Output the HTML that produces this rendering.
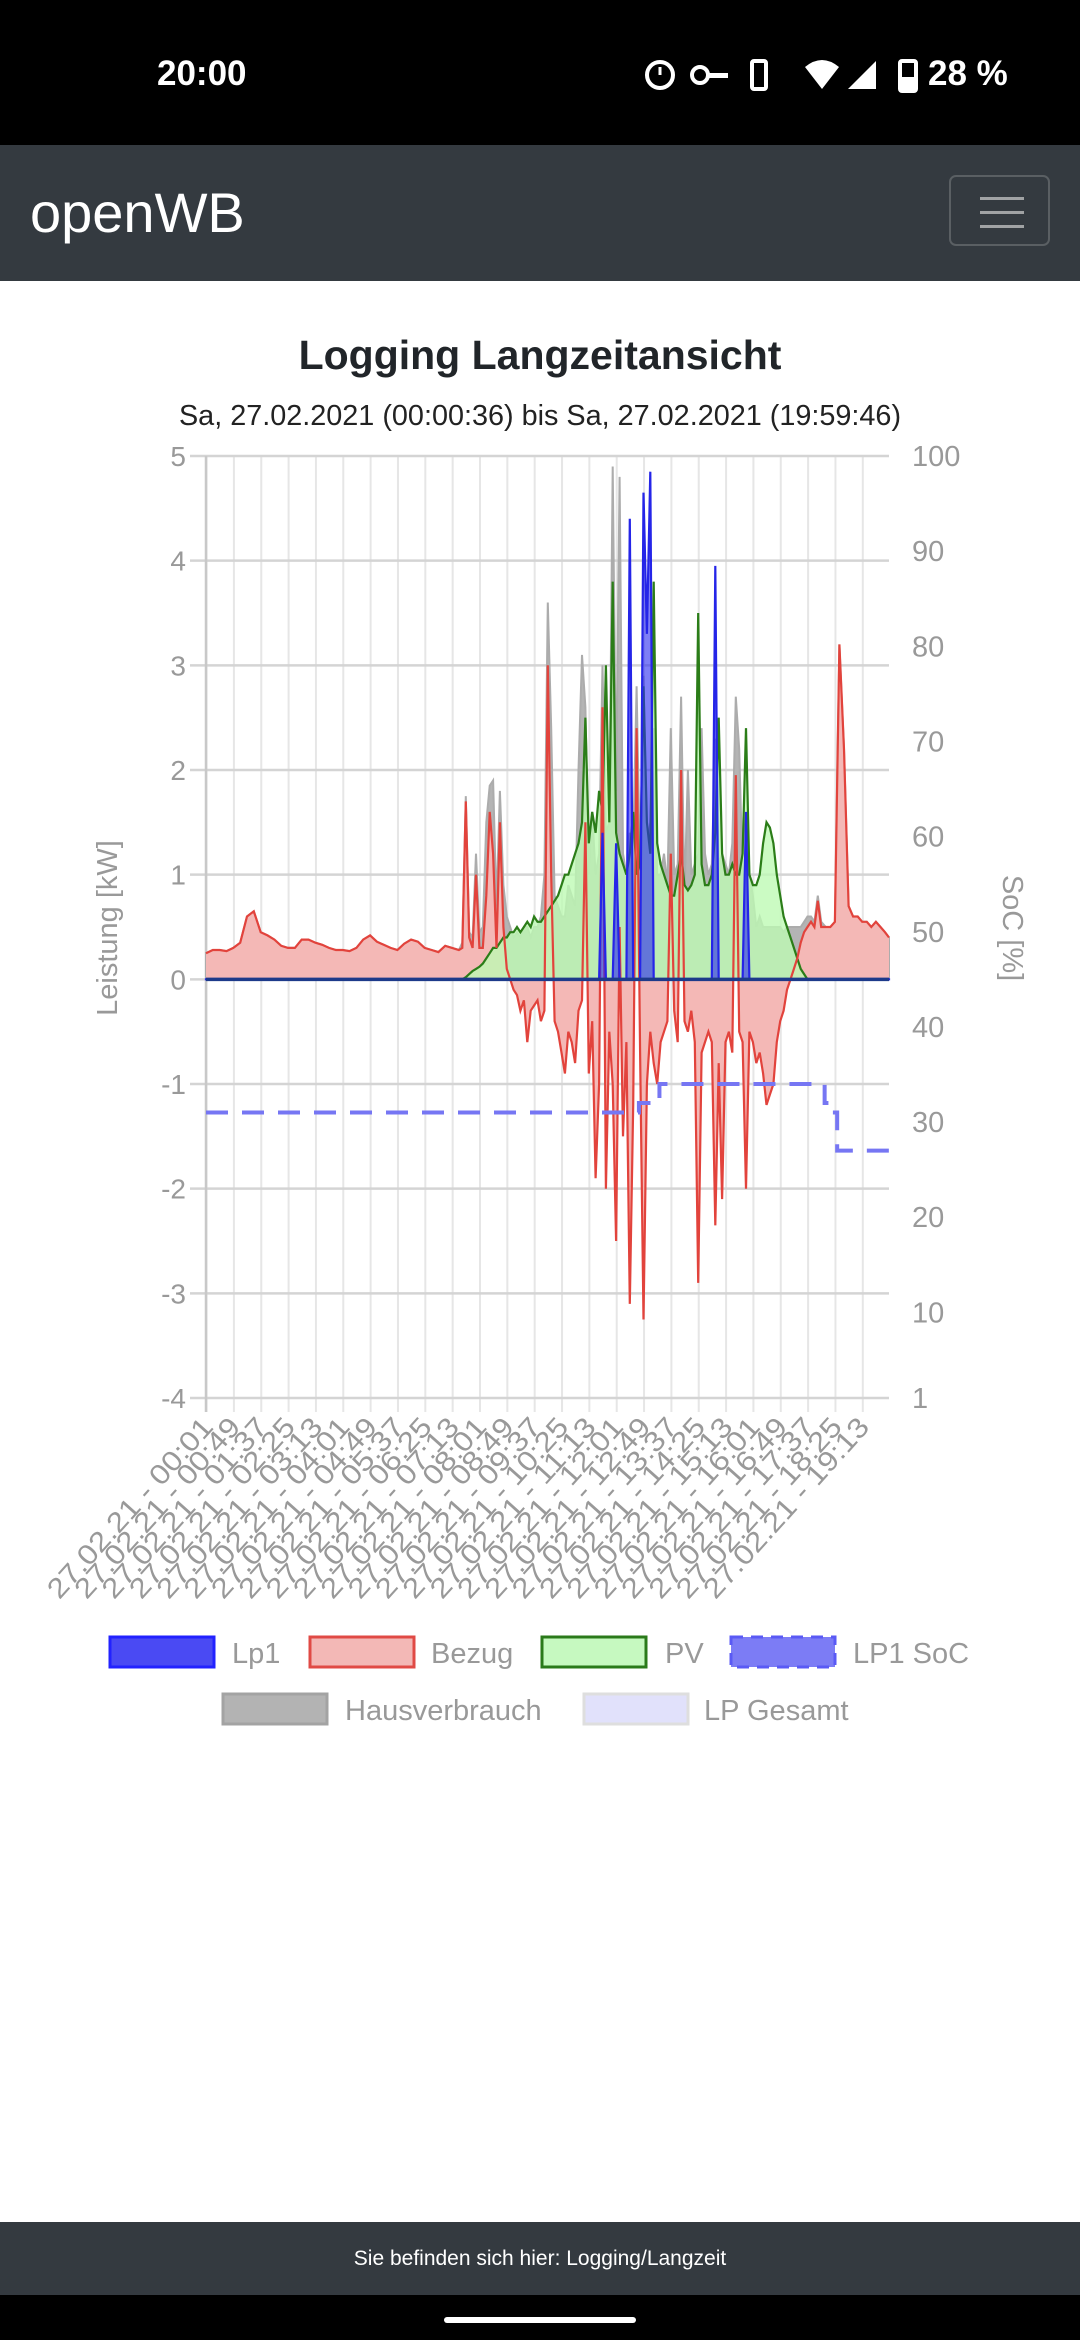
<!DOCTYPE html>
<html><head><meta charset="utf-8">
<style>
html,body{margin:0;padding:0;width:1080px;height:2340px;overflow:hidden;background:#fff;font-family:"Liberation Sans",sans-serif;}
#root{position:relative;width:1080px;height:2340px;}
.status{position:absolute;left:0;top:0;width:1080px;height:145px;background:#000;color:#fff;}
.nav{position:absolute;left:0;top:145px;width:1080px;height:136px;background:#343a40;}
.brand{position:absolute;left:30px;top:185px;font-size:56px;color:#fff;line-height:1;}
.toggler{position:absolute;left:949px;top:175px;width:101px;height:71px;border:2px solid #5a5f63;border-radius:7px;box-sizing:border-box;}
.toggler span{position:absolute;left:29px;width:44px;height:3px;background:#a0a2a4;}
.title{position:absolute;left:0;width:1080px;text-align:center;top:332px;font-size:41px;font-weight:bold;color:#212529;}
.sub{position:absolute;left:0;width:1080px;text-align:center;top:400px;font-size:28.8px;color:#222;}
.footer{position:absolute;left:0;top:2222px;width:1080px;height:73px;background:#343a40;color:#fff;font-size:21px;text-align:center;line-height:73px;}
.bottom{position:absolute;left:0;top:2295px;width:1080px;height:45px;background:#000;}
</style></head>
<body><div id="root">
<div class="status">
  <div style="position:absolute;left:157px;top:54px;font-size:35px;font-weight:bold;">20:00</div>
  <svg width="420" height="60" style="position:absolute;left:640px;top:45px">
    <circle cx="20" cy="30" r="13" fill="none" stroke="#fff" stroke-width="4"/>
    <line x1="20" y1="30" x2="20" y2="22" stroke="#fff" stroke-width="3"/>
    <circle cx="60" cy="30" r="8" fill="none" stroke="#fff" stroke-width="4"/><rect x="66" y="28" width="22" height="5" fill="#fff"/>
    <rect x="112" y="16" width="14" height="28" rx="2" fill="none" stroke="#fff" stroke-width="4"/>
    <path d="M165 22 L182 44 L199 22 Q182 8 165 22Z" fill="#fff"/>
    <path d="M208 44 L236 44 L236 16Z" fill="#fff"/>
    <rect x="260" y="16" width="16" height="30" rx="2" fill="none" stroke="#fff" stroke-width="4"/><rect x="262" y="32" width="12" height="12" fill="#fff"/>
  </svg>
  <div style="position:absolute;left:928px;top:54px;font-size:35px;font-weight:bold;">28 %</div>
</div>
<div class="nav"></div>
<div class="brand">openWB</div>
<div class="toggler"><span style="top:20px"></span><span style="top:34px"></span><span style="top:48px"></span></div>
<div class="title">Logging Langzeitansicht</div>
<div class="sub">Sa, 27.02.2021 (00:00:36) bis Sa, 27.02.2021 (19:59:46)</div>
<svg id="chart" width="1080" height="1780" style="position:absolute;left:0;top:0"></svg>
<div class="footer">Sie befinden sich hier: Logging/Langzeit</div>
<div class="bottom"><div style="position:absolute;left:444px;top:22px;width:192px;height:6px;border-radius:3px;background:#fff"></div></div>
</div>
<script>
const times=[0,12,24,36,48,60,72,84,96,108,120,132,144,156,168,180,192,204,216,228,240,252,264,276,288,300,312,324,336,348,360,372,384,396,408,420,432,444,
450,456,462,468,474,480,486,492,498,504,510,516,522,528,534,540,546,552,558,564,570,576,582,588,594,600,606,612,618,624,630,636,642,648,654,660,666,672,678,684,690,696,702,708,714,720,726,732,738,744,750,756,762,768,774,780,786,792,798,804,810,816,822,828,834,840,846,852,858,864,870,876,882,888,894,900,906,912,918,924,930,936,942,948,954,960,966,972,978,984,990,996,1002,1008,1014,1020,1026,1032,1038,1044,1050,1056,1062,1068,1074,1080,
1088,1096,1104,1112,1120,1128,1136,1144,1152,1160,1168,1176,1184,1192,1199];
const bezug=[0.25,0.28,0.28,0.27,0.30,0.35,0.6,0.65,0.45,0.42,0.38,0.32,0.30,0.30,0.38,0.38,0.35,0.33,0.30,0.28,0.28,0.27,0.30,0.38,0.42,0.36,0.33,0.30,0.28,0.34,0.38,0.36,0.30,0.28,0.26,0.32,0.30,0.28,
0.3,1.7,0.4,0.3,1.0,0.3,0.3,0.8,1.6,1.2,0.3,1.5,0.5,0.1,0.0,-0.1,
-0.15,-0.3,-0.2,-0.6,-0.3,-0.25,-0.2,-0.4,-0.3,3.0,
1.0,-0.4,-0.5,-0.7,-0.9,-0.5,-0.6,-0.8,-0.3,-0.2,
1.5,-0.9,-0.4,-1.9,-1.0,2.6,-2.0,-0.5,-1.0,-2.5,
0.5,-1.5,-0.6,-3.1,-1.2,2.4,-0.7,-3.25,-1.0,-0.5,
-0.8,-1.0,-0.6,-0.5,-0.4,1.2,-0.3,-0.6,2.0,-0.4,
-0.5,-0.3,-0.6,-2.9,-0.7,-0.6,-0.5,-0.6,-2.35,-0.8,
-2.1,-0.6,-0.5,-0.7,1.95,-0.5,-0.6,-2.0,-0.5,-0.6,
-0.8,-0.7,-0.9,-1.2,-1.1,-1.0,-0.6,-0.4,-0.3,-0.1,
0.0,0.1,0.2,0.35,0.45,0.5,0.55,0.5,0.75,0.5,
0.5,0.5,0.55,3.2,2.2,0.7,0.6,0.6,0.55,0.55,0.5,0.55,0.5,0.45,0.4];
const pv=[0,0,0,0,0,0,0,0,0,0,0,0,0,0,0,0,0,0,0,0,0,0,0,0,0,0,0,0,0,0,0,0,0,0,0,0,0,0,
0,0.02,0.05,0.08,0.1,0.12,0.15,0.2,0.25,0.3,0.3,0.35,0.4,0.4,0.45,0.45,
0.5,0.45,0.5,0.55,0.5,0.6,0.55,0.55,0.6,0.65,
0.7,0.75,0.8,0.9,1.0,1.0,1.1,1.2,1.3,1.5,
2.5,1.3,1.6,1.4,1.8,1.6,3.0,1.5,3.8,1.4,
1.2,1.1,1.0,1.2,1.6,1.0,1.1,2.8,1.5,1.2,
3.8,1.3,1.1,1.0,0.9,0.8,0.8,1.0,1.2,0.9,
0.85,0.9,1.0,3.5,1.1,0.9,0.9,1.0,1.4,2.5,
1.2,1.0,1.0,1.1,1.0,1.0,1.2,2.4,1.0,0.9,
0.9,1.0,1.3,1.5,1.45,1.3,1.0,0.8,0.6,0.5,
0.4,0.3,0.2,0.1,0.05,0,0,0,0,0,
0,0,0,0,0,0,0,0,0,0,0,0,0,0,0];
const lp1=[0,0,0,0,0,0,0,0,0,0,0,0,0,0,0,0,0,0,0,0,0,0,0,0,0,0,0,0,0,0,0,0,0,0,0,0,0,0,
0,0,0,0,0,0,0,0,0,0,0,0,0,0,0,0,
0,0,0,0,0,0,0,0,0,0,
0,0,0,0,0,0,0,0,0,0,
0,0,0,0,0,1.4,0,0,0,1.3,
0,0,0,4.4,0,0,0,4.65,3.3,4.85,
0,0,0,0,0,0,0,0,0,0,
0,0,0,0,0,0,0,0,3.95,0,
0,0,0,0,0,0,0,1.6,0,0,
0,0,0,0,0,0,0,0,0,0,
0,0,0,0,0,0,0,0,0,0,
0,0,0,0,0,0,0,0,0,0,0,0,0,0,0];
const haus=[0.25,0.28,0.28,0.27,0.30,0.35,0.6,0.65,0.45,0.42,0.38,0.32,0.30,0.30,0.38,0.38,0.35,0.33,0.30,0.28,0.28,0.27,0.30,0.38,0.42,0.36,0.33,0.30,0.28,0.34,0.38,0.36,0.30,0.28,0.26,0.32,0.30,0.28,
0.35,1.75,0.45,0.4,1.2,0.45,0.5,1.5,1.85,1.9,0.7,1.8,0.9,0.6,0.5,0.4,
0.45,0.4,0.5,0.5,0.4,0.5,0.5,0.6,1.0,3.6,
2.4,0.8,0.7,0.6,0.6,0.9,0.8,0.7,2.0,3.1,
2.6,1.0,1.6,1.0,1.2,3.0,1.4,1.5,4.9,1.8,
4.8,1.2,1.0,1.4,1.3,2.8,1.0,2.9,1.2,1.5,
2.4,1.0,1.0,1.2,0.9,2.4,1.0,1.1,2.7,0.8,
2.0,1.0,1.1,1.2,2.4,1.2,1.0,1.1,2.3,1.1,
1.2,1.1,1.0,1.3,2.7,2.2,1.0,1.0,1.0,0.8,
0.5,0.6,0.5,0.5,0.5,0.5,0.5,0.5,0.45,0.5,
0.5,0.5,0.5,0.5,0.55,0.6,0.6,0.55,0.8,0.55,
0.5,0.5,0.55,3.2,2.2,0.7,0.6,0.6,0.55,0.55,0.5,0.55,0.5,0.45,0.4];
const socTimes=[0,730,760,796,1076,1086,1100,1108,1199];
const socVals=[31,31,32,34,34,32,31,27,27];
const yTicks=[5,4,3,2,1,0,-1,-2,-3,-4];
const socTicks=[100,90,80,70,60,50,40,30,20,10,1];
const xLabels=["00:01","00:49","01:37","02:25","03:13","04:01","04:49","05:37","06:25","07:13","08:01","08:49","09:37","10:25","11:13","12:01","12:49","13:37","14:25","15:13","16:01","16:49","17:37","18:25","19:13"];
const xLabelMin=[1,49,97,145,193,241,289,337,385,433,481,529,577,625,673,721,769,817,865,913,961,1009,1057,1105,1153];

const L=206,R=889,T=456,B=1398,TMAX=1199;
const X=t=>L+t/TMAX*(R-L);
const Y=v=>T+(5-v)/9*(B-T);
const YS=s=>B-(s-1)/99*(B-T);
const svg=document.getElementById('chart');
const NS='http://www.w3.org/2000/svg';
function mk(tag,attrs,parent){const e=document.createElementNS(NS,tag);for(const k in attrs)e.setAttribute(k,attrs[k]);(parent||svg).appendChild(e);return e;}

const grid=mk('g',{});


xLabelMin.forEach(m=>{mk('line',{x1:X(m),x2:X(m),y1:T,y2:B+14,stroke:'#e6e6e6','stroke-width':2},grid);});
yTicks.forEach(v=>{mk('line',{x1:L-16,x2:R,y1:Y(v),y2:Y(v),stroke:'#d4d4d4','stroke-width':2.5},grid);});
mk('line',{x1:L,x2:L,y1:T,y2:B+14,stroke:'#c8c8c8','stroke-width':2.5},grid);

yTicks.forEach(v=>{
  const t=mk('text',{x:L-20,y:Y(v)+10,'text-anchor':'end','font-size':28,fill:'#999','font-family':'Liberation Sans, sans-serif'});
  t.textContent=String(v);
  
  
});
socTicks.forEach(s=>{
  const t=mk('text',{x:912,y:YS(s)+10,'font-size':29,fill:'#999','font-family':'Liberation Sans, sans-serif'});
  t.textContent=String(s);
  
  
});
const yt=mk('text',{x:0,y:0,transform:'translate(117,928) rotate(-90)','text-anchor':'middle','font-size':29,fill:'#999','font-family':'Liberation Sans, sans-serif'});
yt.textContent='Leistung [kW]';


const st=mk('text',{x:0,y:0,transform:'translate(1003,928) rotate(90)','text-anchor':'middle','font-size':29,fill:'#999','font-family':'Liberation Sans, sans-serif'});
st.textContent='SoC [%]';



xLabels.forEach((lab,i)=>{
  const x=X(xLabelMin[i])+8,y=1428;
  const t=mk('text',{x:0,y:0,transform:`translate(${x},${y}) rotate(-48)`,'text-anchor':'end','font-size':28,fill:'#999','font-family':'Liberation Sans, sans-serif',textLength:232,lengthAdjust:'spacingAndGlyphs'});
  t.textContent='27.02.21 - '+lab;
  
  
});

function linePath(arr){return arr.map((v,i)=>(i?'L':'M')+X(times[i]).toFixed(1)+' '+Y(v||0).toFixed(1)).join(' ');}
function areaPath(arr){return linePath(arr)+` L${X(times[times.length-1])} ${Y(0)} L${X(0)} ${Y(0)} Z`;}

const hA=mk('path',{d:areaPath(haus),fill:'#b4b4b4',stroke:'#acacac','stroke-width':2});


const bA=mk('path',{d:areaPath(bezug),fill:'#f4b8b6',stroke:'none'});


const pA=mk('path',{d:areaPath(pv),fill:'rgba(190,250,180,0.8)',stroke:'none'});


const pL=mk('path',{d:linePath(pv),fill:'none',stroke:'#2b7d18','stroke-width':2.2});


const bL=mk('path',{d:linePath(bezug),fill:'none',stroke:'#e2433c','stroke-width':2.2});


const lA=mk('path',{d:areaPath(lp1),fill:'rgba(40,40,240,0.6)',stroke:'#2525e8','stroke-width':2.2});


const z=mk('line',{x1:L,x2:R,y1:Y(0),y2:Y(0),stroke:'#1d3a8a','stroke-width':3.5});



let sd='';
socTimes.forEach((t,i)=>{
  if(i===0) sd+=`M${X(t)} ${YS(socVals[i])}`;
  else sd+=` L${X(t)} ${YS(socVals[i-1])} L${X(t)} ${YS(socVals[i])}`;
});
const sL=mk('path',{d:sd,fill:'none',stroke:'#7676f3','stroke-width':4,'stroke-dasharray':'22 14'});



const legend=[
 {n:'Lp1',x:110,y:1637,tx:232,fill:'#4a4af3',stroke:'#2222ff',dash:''},
 {n:'Bezug',x:310,y:1637,tx:431,fill:'#f3b8b6',stroke:'#e04a45',dash:''},
 {n:'PV',x:542,y:1637,tx:665,fill:'#c6f9c0',stroke:'#2a7a1a',dash:''},
 {n:'LP1 SoC',x:731,y:1637,tx:853,fill:'#7c7cf5',stroke:'#5a5af5',dash:'12 8'},
 {n:'Hausverbrauch',x:223,y:1694,tx:345,fill:'#b3b3b3',stroke:'#a3a3a3',dash:''},
 {n:'LP Gesamt',x:584,y:1694,tx:704,fill:'#e1e1fb',stroke:'#dedede',dash:''}
];
legend.forEach(it=>{
  const g=mk('g',{});
  
  
  mk('rect',{x:it.x,y:it.y,width:104,height:30,fill:it.fill,stroke:it.stroke,'stroke-width':3,'stroke-dasharray':it.dash},g);
  const t=mk('text',{x:it.tx,y:it.y+26,'font-size':29,fill:'#999','font-family':'Liberation Sans, sans-serif'},g);
  t.textContent=it.n;
});
</script>
</body></html>
